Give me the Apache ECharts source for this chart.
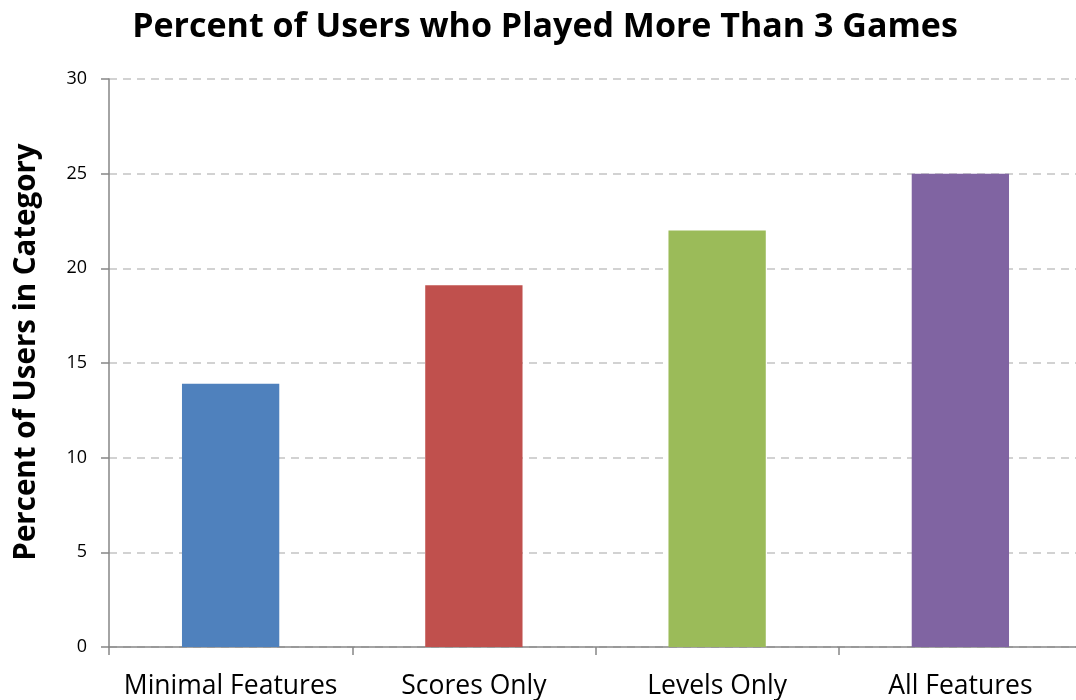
<!DOCTYPE html>
<html>
<head>
<meta charset="utf-8">
<script src="https://cdn.jsdelivr.net/npm/echarts@6/dist/echarts.min.js"></script>
<style>
  html, body { margin: 0; padding: 0; background: #fff; overflow: hidden; }
  /* canvas is a little wider than the window so the plot area runs past the right edge */
  #chart { width: 1092px; height: 700px; }
</style>
</head>
<body>
<div id="chart"></div>
<script>
// Share of users (%) who played more than 3 games, per feature set
const categories = ['Minimal Features', 'Scores Only', 'Levels Only', 'All Features'];
const percentValues = [13.9, 19.1, 22.0, 25.0];
const barColors = ['#4F81BD', '#C0504D', '#9BBB59', '#8064A2'];
const titleText = 'Percent of Users who Played More Than 3 Games';
const yAxisTitle = 'Percent of Users in Category';

const chart = echarts.init(document.getElementById('chart'), null, { renderer: 'canvas' });

const font = '"Open Sans", "DejaVu Sans", sans-serif';

chart.setOption({
  animation: false,
  backgroundColor: '#ffffff',
  title: {
    text: titleText,
    left: 540,
    top: 5,
    textAlign: 'center',
    textStyle: { fontFamily: font, fontWeight: 'bold', fontSize: 34, color: '#000' }
  },
  grid: { left: 109, width: 973, top: 79, bottom: 53, containLabel: false },
  graphic: [{
    type: 'text',
    x: 27,
    y: 352,
    rotation: Math.PI / 2,
    style: {
      text: yAxisTitle,
      fontFamily: font,
      fontWeight: 'bold',
      fontSize: 29.5,
      fill: '#000',
      align: 'center',
      verticalAlign: 'middle'
    }
  }],
  xAxis: {
    type: 'category',
    data: categories,
    axisLine: { lineStyle: { color: '#868686', width: 1.5 } },
    axisTick: { show: true, interval: 0, length: 8, lineStyle: { color: '#868686', width: 1.5 } },
    axisLabel: { interval: 0, fontFamily: font, fontSize: 26.5, color: '#000', margin: 26 }
  },
  yAxis: {
    type: 'value',
    min: 0,
    max: 30,
    interval: 5,
    axisLine: { show: true, lineStyle: { color: '#868686', width: 1.5 } },
    axisTick: { show: true, length: 8, lineStyle: { color: '#868686', width: 1.5 } },
    axisLabel: { fontFamily: font, fontSize: 18, color: '#000', margin: 22 },
    splitLine: { show: true, lineStyle: { color: '#c4c4c4', width: 1.5, type: [8, 6] } }
  },
  series: [{
    type: 'bar',
    barWidth: '40%',
    data: percentValues.map((v, i) => ({ value: v, itemStyle: { color: barColors[i] } }))
  }]
});
</script>
</body>
</html>
